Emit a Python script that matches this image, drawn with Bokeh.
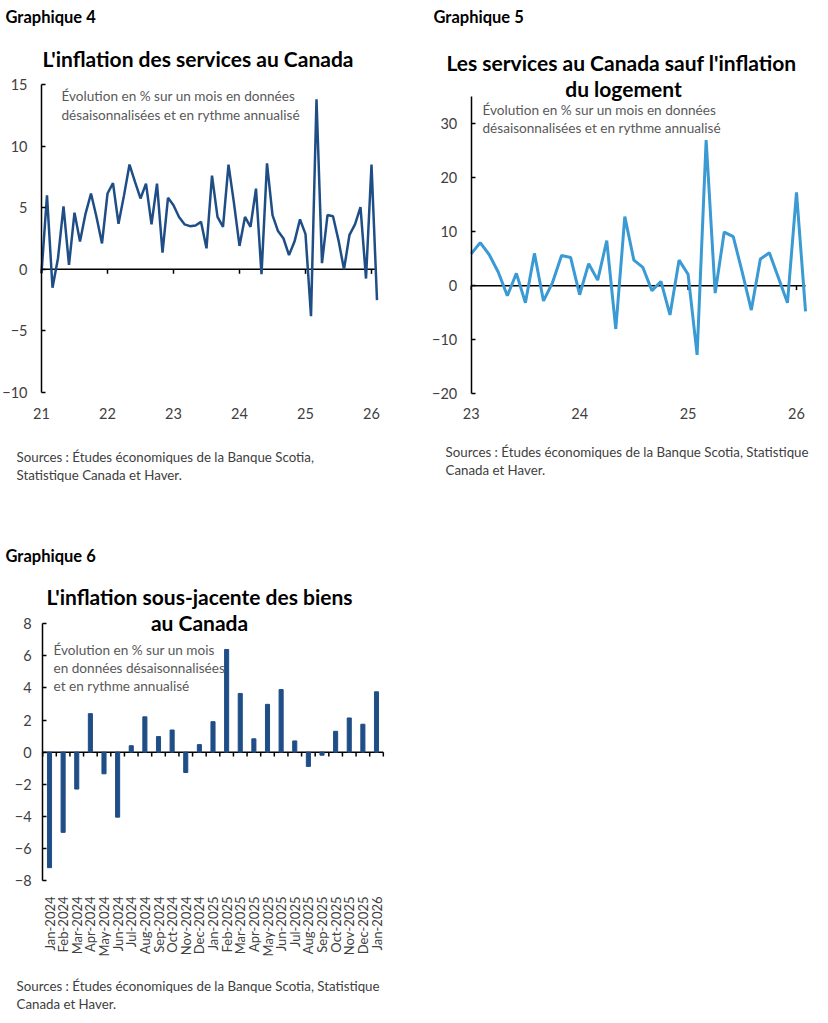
import numpy as np
from bokeh.plotting import figure
from bokeh.models import Label, FixedTicker, Range1d, LinearAxis
from bokeh.layouts import column, row
from bokeh.embed import file_html
from bokeh.resources import INLINE

FONT = "Lato"

# ---------------- data ----------------
# Graphique 4: services inflation, monthly from Jan 2021
services = [-0.3, 6.0, -1.5, 0.9, 5.1, 0.35, 4.6, 2.25, 4.5, 6.15, 4.25, 2.1,
            6.15, 7.0, 3.7, 6.0, 8.5, 7.1, 5.75, 6.95, 3.65, 6.95, 1.35, 5.8,
            5.2, 4.25, 3.65, 3.5, 3.55, 3.85, 1.7, 7.6, 4.25, 3.45, 8.5, 5.35,
            1.9, 4.25, 3.45, 6.55, -0.4, 8.6, 4.4, 3.1, 2.5, 1.15, 2.25, 4.05,
            2.85, -3.8, 13.8, 0.5, 4.4, 4.3, 2.35, 0.0, 2.8, 3.65, 5.05, -0.75,
            8.5, -2.5]
services_start = 2021
years4 = [2021, 2022, 2023, 2024, 2025, 2026]
year_labels4 = ["21", "22", "23", "24", "25", "26"]
yticks4 = [-10, -5, 0, 5, 10, 15]

# Graphique 5: services ex shelter, monthly from Jan 2023
services_ex = [5.9, 8.0, 5.75, 2.5, -1.85, 2.3, -3.15, 6.0, -2.8, 0.6, 5.6, 5.25,
               -1.65, 4.1, 1.05, 8.35, -8.0, 12.8, 4.75, 3.4, -0.9, 0.8, -5.4, 4.75,
               2.15, -12.8, 27.0, -1.35, 9.95, 9.1, 2.5, -4.5, 4.95, 6.1, 1.5, -3.15,
               17.3, -4.75]
services_ex_start = 2023
years5 = [2023, 2024, 2025, 2026]
year_labels5 = ["23", "24", "25", "26"]
yticks5 = [-20, -10, 0, 10, 20, 30]

# Graphique 6: core goods
months6 = ["Jan-2024", "Feb-2024", "Mar-2024", "Apr-2024", "May-2024", "Jun-2024",
           "Jul-2024", "Aug-2024", "Sep-2024", "Oct-2024", "Nov-2024", "Dec-2024",
           "Jan-2025", "Feb-2025", "Mar-2025", "Apr-2025", "May-2025", "Jun-2025",
           "Jul-2025", "Aug-2025", "Sep-2025", "Oct-2025", "Nov-2025", "Dec-2025",
           "Jan-2026"]
goods = [-7.2, -5.0, -2.3, 2.4, -1.35, -4.05, 0.4, 2.2, 0.97, 1.38, -1.27, 0.47,
         1.9, 6.4, 3.66, 0.83, 2.98, 3.9, 0.7, -0.89, -0.19, 1.3, 2.13, 1.74, 3.76]
yticks6 = [-8, -6, -4, -2, 0, 2, 4, 6, 8]

DARK = "#1f4e87"
LIGHT = "#3a9ad3"
TICK_COLOR = "#404040"
SUB_COLOR = "#595959"
SUB = 13.6
SRC = 13.3


def x_range_from(v0, p0, v1, p1, c0, c1):
    k = (v1 - v0) / (p1 - p0)
    return Range1d(v0 + (c0 - p0) * k, v0 + (c1 - p0) * k)


def y_range_from(v0, p0, v1, p1, c0, c1):
    k = (v1 - v0) / (p1 - p0)
    return Range1d(v0 + (c1 - p0) * k, v0 + (c0 - p0) * k)


def panel(width, height, xr, yr):
    p = figure(width=width, height=height, x_range=xr, y_range=yr,
               output_backend="svg", toolbar_location=None, title=None,
               x_axis_location=None, y_axis_location=None, min_border=0)
    p.outline_line_color = None
    p.grid.visible = False
    p.background_fill_color = "white"
    p.border_fill_color = "white"
    return p


def add_y_axis(p, loc, ticks, bounds, standoff):
    ax = LinearAxis(fixed_location=loc, ticker=FixedTicker(ticks=ticks), bounds=bounds,
                    axis_line_color="black", axis_line_width=1.5,
                    major_tick_in=4, major_tick_out=0,
                    major_tick_line_color="black", major_tick_line_width=1.5,
                    minor_tick_line_color=None, major_label_standoff=standoff,
                    major_label_text_font=FONT, major_label_text_font_size="14.5px",
                    major_label_text_color=TICK_COLOR)
    p.add_layout(ax, "left")
    return ax


def add_x_labels(p, loc, ticks, labels, standoff, size="14.5px", orientation="horizontal"):
    ax = LinearAxis(fixed_location=loc, ticker=FixedTicker(ticks=ticks),
                    major_label_overrides={t: l for t, l in zip(ticks, labels)},
                    axis_line_color=None, major_tick_line_color=None,
                    minor_tick_line_color=None, major_label_standoff=standoff,
                    major_label_text_font=FONT, major_label_text_font_size=size,
                    major_label_text_color=TICK_COLOR,
                    major_label_orientation=orientation)
    p.add_layout(ax, "below")
    return ax


class Placer:
    """Place texts by page pixel position (text centre line); canvas == frame here."""

    def __init__(self, p, ox, oy, h):
        self.p, self.ox, self.oy, self.h = p, ox, oy, h

    def text(self, px, py, txt, size, bold=False, color="black", align="left"):
        self.p.add_layout(Label(
            x=px - self.ox, y=(self.oy + self.h) - py,
            x_units="screen", y_units="screen", text=txt,
            text_font=FONT, text_font_size=f"{size}px",
            text_font_style="bold" if bold else "normal",
            text_color=color, text_align=align, text_baseline="middle"))


ROW_H = 536

# ---------------- Graphique 4 ----------------
W4 = 420
x4 = services_start + np.arange(len(services)) / 12
p4 = panel(W4, ROW_H,
           x_range_from(2021, 41, 2026, 371, 0, W4),
           y_range_from(15, 84, -10, 392, 0, ROW_H))
p4.segment(x0=[x4[0]], y0=[0], x1=[x4[-1]], y1=[0], line_color="black", line_width=1.5)
p4.segment(x0=years4, y0=0, x1=years4, y1=-0.37, line_color="black", line_width=1.5)
p4.line(x4, services, line_color=DARK, line_width=2.5)
add_y_axis(p4, services_start, yticks4, (yticks4[0], yticks4[-1]), 14)
add_x_labels(p4, yticks4[0], years4, year_labels4, 9)
t4 = Placer(p4, 0, 0, ROW_H)
t4.text(5, 16, "Graphique 4", 16.5, bold=True)
t4.text(197.5, 58, "L'inflation des services au Canada", 21, bold=True, align="center")
t4.text(61, 95.5, "Évolution en % sur un mois en données", SUB, color=SUB_COLOR)
t4.text(61, 114.5, "désaisonnalisées et en rythme annualisé", SUB, color=SUB_COLOR)
t4.text(16, 456, "Sources : Études économiques de la Banque Scotia,", SRC, color=TICK_COLOR)
t4.text(16, 474, "Statistique Canada et Haver.", SRC, color=TICK_COLOR)

# ---------------- Graphique 5 ----------------
W5 = 408
OX5 = 420
x5 = services_ex_start + np.arange(len(services_ex)) / 12
p5 = panel(W5, ROW_H,
           x_range_from(2023, 470.7 - OX5, 2026, 796 - OX5, 0, W5),
           y_range_from(30, 123.3, -20, 393.3, 0, ROW_H))
p5.segment(x0=[x5[0]], y0=[0], x1=[x5[-1]], y1=[0], line_color="black", line_width=1.5)
p5.segment(x0=years5, y0=0, x1=years5, y1=-0.8, line_color="black", line_width=1.5)
p5.line(x5, services_ex, line_color=LIGHT, line_width=3)
add_y_axis(p5, services_ex_start, yticks5, (yticks5[0], 35), 14)
add_x_labels(p5, yticks5[0], years5, year_labels5, 8)
t5 = Placer(p5, OX5, 0, ROW_H)
t5.text(433, 16, "Graphique 5", 16.5, bold=True)
t5.text(621, 62, "Les services au Canada sauf l'inflation", 21, bold=True, align="center")
t5.text(623, 88, "du logement", 21, bold=True, align="center")
t5.text(482, 109, "Évolution en % sur un mois en données", SUB, color=SUB_COLOR)
t5.text(482, 127, "désaisonnalisées et en rythme annualisé", SUB, color=SUB_COLOR)
t5.text(445, 451, "Sources : Études économiques de la Banque Scotia, Statistique", SRC, color=TICK_COLOR)
t5.text(445, 469, "Canada et Haver.", SRC, color=TICK_COLOR)

# ---------------- Graphique 6 ----------------
W6, H6 = 420, 485
OY6 = ROW_H
idx6 = np.arange(len(goods))
edges6 = np.arange(len(goods) + 1) - 0.5
p6 = panel(W6, H6,
           x_range_from(0, 49, 24, 376, 0, W6),
           y_range_from(8, 623.3 - OY6, -8, 880 - OY6, 0, H6))
p6.segment(x0=[edges6[0]], y0=[0], x1=[edges6[-1]], y1=[0], line_color="black", line_width=1.5)
p6.segment(x0=edges6, y0=0, x1=edges6, y1=-0.27, line_color="black", line_width=1.5)
p6.vbar(x=idx6, top=goods, bottom=0, width=0.3, fill_color=DARK, line_color=DARK)
add_y_axis(p6, edges6[0], yticks6, (yticks6[0], yticks6[-1]), 11)
add_x_labels(p6, yticks6[0], list(idx6), months6, 10, size="13px",
             orientation=np.pi / 2)
t6 = Placer(p6, 0, OY6, H6)
t6.text(5, 555, "Graphique 6", 16.5, bold=True)
t6.text(199, 596, "L'inflation sous-jacente des biens", 21, bold=True, align="center")
t6.text(199, 622, "au Canada", 21, bold=True, align="center")
t6.text(53, 649.5, "Évolution en % sur un mois", SUB, color=SUB_COLOR)
t6.text(53, 667.5, "en données désaisonnalisées", SUB, color=SUB_COLOR)
t6.text(53, 685.5, "et en rythme annualisé", SUB, color=SUB_COLOR)
t6.text(16, 985, "Sources : Études économiques de la Banque Scotia, Statistique", SRC, color=TICK_COLOR)
t6.text(16, 1003, "Canada et Haver.", SRC, color=TICK_COLOR)

layout = column(row(p4, p5, spacing=0), p6, spacing=0)
open("out.html", "w").write(file_html(layout, INLINE))
